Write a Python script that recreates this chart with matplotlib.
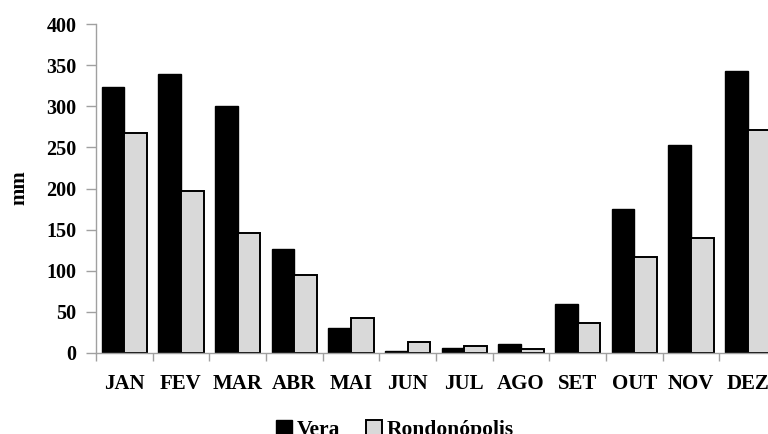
import numpy as np
import matplotlib
matplotlib.use('Agg')
import matplotlib.pyplot as plt

months = ['JAN', 'FEV', 'MAR', 'ABR', 'MAI', 'JUN', 'JUL', 'AGO', 'SET', 'OUT', 'NOV', 'DEZ']
vera = [323, 339, 300, 126, 30, 2, 6, 11, 60, 175, 253, 343]
rondonopolis = [268, 197, 146, 95, 43, 13, 9, 5, 36, 117, 140, 271]

plt.rcParams['font.family'] = ['Liberation Serif', 'DejaVu Serif']
plt.rcParams['font.weight'] = 'bold'

fig = plt.figure(figsize=(7.68, 4.34), dpi=100)
# the plot runs past the right edge of the picture, as in the original
ax = fig.add_axes([96 / 768, 1 - 353 / 434, 680 / 768, 329 / 434])

x = np.arange(len(months))
w = 0.4
ax.bar(x - w / 2, vera, w, color='black', edgecolor='black', linewidth=1.0, label='Vera')
ax.bar(x + w / 2, rondonopolis, w, color='#d9d9d9', edgecolor='black', linewidth=1.4,
       label='Rondonópolis')

ax.set_xlim(-0.5, len(months) - 0.5)
ax.set_ylim(0, 400)
ax.set_yticks(range(0, 401, 50))
ax.set_xticks(x)
ax.set_xticklabels(months, fontsize=15, fontweight='bold')
ax.set_xticks(np.arange(-0.5, len(months), 1), minor=True)
ax.tick_params(axis='x', which='major', length=0, pad=15)
ax.tick_params(axis='x', which='minor', length=6, color='#a0a0a0', width=1)
ax.tick_params(axis='y', length=7, color='#a0a0a0', width=1, labelsize=14.5, pad=7)
for lab in ax.get_yticklabels():
    lab.set_fontweight('bold')

for side in ['top', 'right']:
    ax.spines[side].set_visible(False)
for side in ['left', 'bottom']:
    ax.spines[side].set_color('#a0a0a0')
    ax.spines[side].set_linewidth(1)

fig.text(19 / 768, 1 - 188 / 434, 'mm', rotation=90, ha='center', va='center',
         fontsize=15, fontweight='bold')

fig.legend(loc='center', bbox_to_anchor=(395 / 768, 1 - 430 / 434), ncol=2, frameon=False,
           prop={'size': 15.5, 'weight': 'bold'}, handlelength=0.75, handleheight=0.75,
           handletextpad=0.2, columnspacing=1.2)

fig.savefig('out.png', dpi=100)
